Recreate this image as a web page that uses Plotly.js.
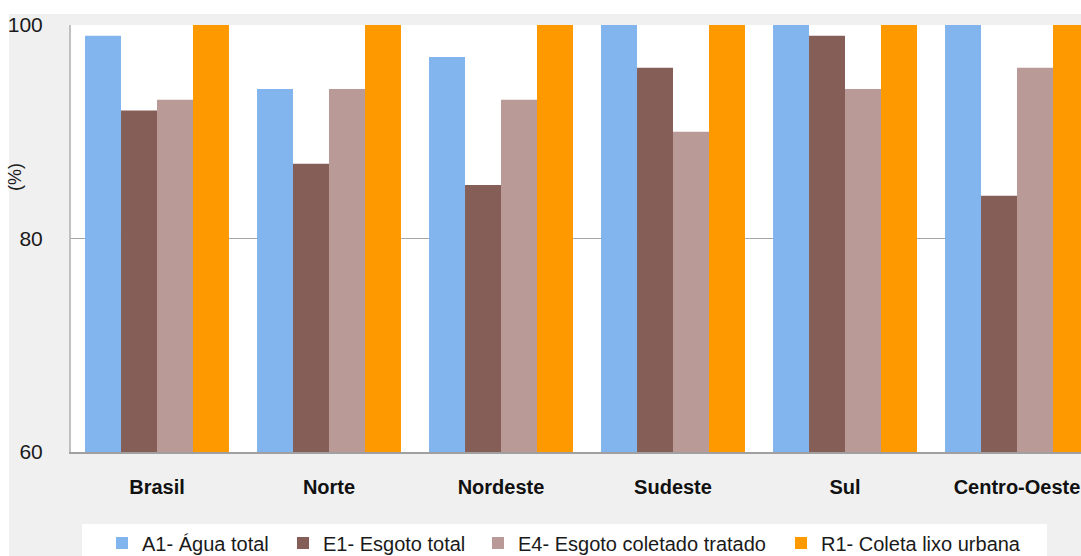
<!DOCTYPE html>
<html>
<head>
<meta charset="utf-8">
<script src="https://cdn.plot.ly/plotly-3.0.1.min.js"></script>
<style>html,body{margin:0;padding:0;overflow:hidden;background:#fff;}</style>
</head>
<body>
<div id="chart" style="width:1081px;height:556px;"></div>
<script>
var categories = ['Brasil', 'Norte', 'Nordeste', 'Sudeste', 'Sul', 'Centro-Oeste'];
var seriesNames = ['A1- Água total', 'E1- Esgoto total', 'E4- Esgoto coletado tratado', 'R1- Coleta lixo urbana'];
var aguaTotal = [99, 94, 97, 100, 100, 100];
var esgotoTotal = [92, 87, 85, 96, 99, 84];
var esgotoTratado = [93, 94, 93, 90, 94, 96];
var coletaLixo = [100, 100, 100, 100, 100, 100];
var yTicks = [60, 80, 100];

var colors = ['#82b4ed', '#855e57', '#b99a97', '#ff9900'];
var values = [aguaTotal, esgotoTotal, esgotoTratado, coletaLixo];
var legendIds = ['legend', 'legend2', 'legend3', 'legend4'];
var FONT = '"Liberation Sans", Arial, sans-serif';

var traces = values.map(function (v, i) {
  return {
    type: 'bar',
    name: seriesNames[i],
    x: categories,
    y: v,
    marker: {color: colors[i], line: {width: 0}},
    legend: legendIds[i],
    hoverinfo: 'skip'
  };
});

// plot area: left 71px, width 1010px, top 25px, height 427px
function px2x(p) { return (p - 71) / 1010; }
function py2y(p) { return (452 - p) / 427; }

var legendStarts = [102, 283, 478, 781];
var legendCommon = function (px) {
  return {
    orientation: 'h',
    xref: 'container', yref: 'container',
    x: px / 1081, xanchor: 'left',
    y: (556 - 543) / 556, yanchor: 'middle',
    bgcolor: 'rgba(0,0,0,0)', borderwidth: 0,
    font: {family: FONT, size: 20, color: '#1a1a1a'}
  };
};

var layout = {
  width: 1081, height: 556,
  margin: {l: 71, r: 0, t: 25, b: 104, pad: 0},
  paper_bgcolor: '#ffffff',
  plot_bgcolor: '#ffffff',
  barmode: 'group',
  bargap: 0.163,
  bargroupgap: 0,
  showlegend: true,
  font: {family: FONT, color: '#1a1a1a'},
  xaxis: {
    type: 'category',
    range: [-0.5, 5.372],
    showline: true, linecolor: '#a0a0a0', linewidth: 2,
    showgrid: false, zeroline: false,
    ticks: '', ticklabelstandoff: 16,
    tickfont: {family: FONT, size: 20, color: '#111', weight: 'bold'},
    fixedrange: true
  },
  yaxis: {
    range: [60, 100],
    tickvals: yTicks,
    ticktext: yTicks.map(String),
    showline: true, linecolor: '#c0c0c0', linewidth: 2,
    showgrid: true, gridcolor: '#a6a6a6', gridwidth: 1,
    zeroline: false,
    ticks: '', ticklabelstandoff: 22,
    tickfont: {family: FONT, size: 21, color: '#1a1a1a'},
    fixedrange: true
  },
  legend: legendCommon(legendStarts[0]),
  legend2: legendCommon(legendStarts[1]),
  legend3: legendCommon(legendStarts[2]),
  legend4: legendCommon(legendStarts[3]),
  annotations: [{
    text: '(%)', textangle: -90, showarrow: false,
    xref: 'paper', yref: 'paper', x: px2x(15), y: py2y(177),
    xanchor: 'center', yanchor: 'middle',
    font: {family: FONT, size: 18, color: '#1a1a1a'}
  }],
  shapes: [
    {type: 'rect', xref: 'paper', yref: 'paper', layer: 'below',
     x0: px2x(9), x1: px2x(1100), y0: py2y(570), y1: py2y(14),
     fillcolor: '#f0f0f0', line: {width: 0}},
    {type: 'rect', xref: 'paper', yref: 'paper', layer: 'below',
     x0: 0, x1: 1, y0: 0, y1: 1,
     fillcolor: '#ffffff', line: {width: 0}},
    {type: 'rect', xref: 'paper', yref: 'paper', layer: 'below',
     x0: px2x(82), x1: px2x(1047), y0: py2y(570), y1: py2y(524),
     fillcolor: '#ffffff', line: {width: 0}}
  ]
};

Plotly.newPlot('chart', traces, layout, {displayModeBar: false, staticPlot: true});
</script>
</body>
</html>
